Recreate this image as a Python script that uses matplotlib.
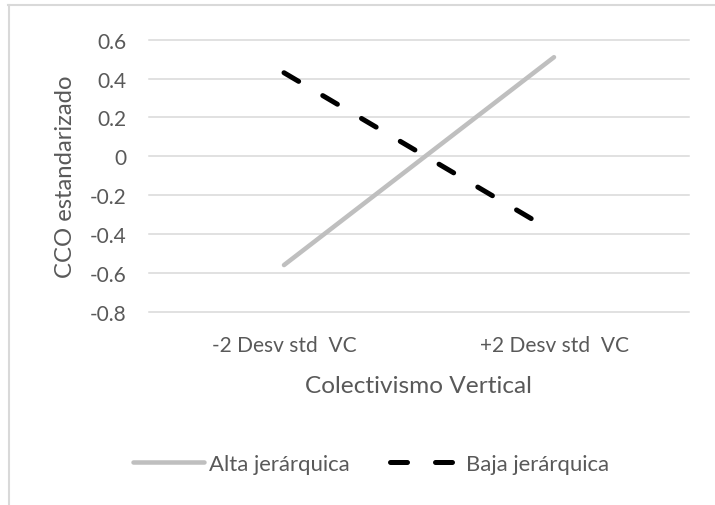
import matplotlib
matplotlib.use("Agg")
import matplotlib.pyplot as plt
from matplotlib.lines import Line2D

# ---- data ----
categories = ["-2 Desv std  VC", "+2 Desv std  VC"]
alta = [-0.56, 0.51]
baja = [0.43, -0.39]
series_names = ["Alta jerárquica", "Baja jerárquica"]
yticks = [-0.8, -0.6, -0.4, -0.2, 0, 0.2, 0.4, 0.6]
ytick_labels = ["-0.8", "-0.6", "-0.4", "-0.2", "0", "0.2", "0.4", "0.6"]
xlabel = "Colectivismo Vertical"
ylabel = "CCO estandarizado"

FAMILY = ['Lato', 'DejaVu Sans']
plt.rcParams['font.family'] = FAMILY
TXT = '#595959'
GRID = '#d9d9d9'
W, H = 715, 506

fig = plt.figure(figsize=(W / 100, H / 100), dpi=100)
renderer = fig.canvas.get_renderer()


def fit_size(text, target_px):
    t = fig.text(0, 0, text, fontsize=10)
    w = t.get_window_extent(renderer).width
    t.remove()
    return 10 * target_px / w


tick_fs = (fit_size(categories[0], 145) + fit_size(categories[1], 148)) / 2
ytick_fs = fit_size("-0.8", 36.7)
title_fs = fit_size(xlabel, 227)
ylab_fs = fit_size(ylabel, 203)
leg_fs = (fit_size(series_names[0], 142) + fit_size(series_names[1], 143)) / 2

ax = fig.add_axes([149 / W, 1 - 312.7 / H, 540 / W, 272 / H])

x = list(range(len(categories)))
ax.plot(x, alta, color='#bfbfbf', lw=3.25, solid_capstyle='round',
        label=series_names[0])
ax.plot(x, baja, color='black', lw=3.6, dashes=(3.4, 5.6),
        dash_capstyle='round', label=series_names[1])

ax.set_xlim(-0.5, len(categories) - 0.5)
ax.set_ylim(-0.8, 0.6)
ax.set_yticks(yticks)
ax.set_yticklabels(ytick_labels)
ax.set_xticks(x)
ax.set_xticklabels(categories)
ax.yaxis.grid(True, color=GRID, lw=1.1)
for gl in ax.get_ygridlines():
    gl.set_clip_on(False)
ax.set_axisbelow(True)
for s in ax.spines.values():
    s.set_visible(False)
ax.tick_params(length=0, colors=TXT)
ax.tick_params(axis='y', pad=16, labelsize=ytick_fs)
ax.tick_params(axis='x', pad=28.1, labelsize=tick_fs)
for lbl in ax.get_xticklabels():
    lbl.set_va('baseline')

fig.text(418.5 / W, 1 - 393.3 / H, xlabel, ha='center', va='baseline',
         fontsize=title_fs, color=TXT)
fig.text(65 / W, 1 - 176.5 / H, ylabel, ha='center', va='center',
         rotation=90, fontsize=ylab_fs, color=TXT)

leg_px = leg_fs * 100 / 72
leg = fig.legend(loc='center', bbox_to_anchor=(371 / W, 1 - 465 / H),
                 ncol=2, frameon=False, fontsize=leg_fs,
                 handlelength=71 / leg_px, handletextpad=5 / leg_px,
                 columnspacing=40 / leg_px)
for t in leg.get_texts():
    t.set_color(TXT)

# chart border (top and left edges visible)
fig.add_artist(Line2D([8 / W, 1], [1 - 6 / H, 1 - 6 / H], color=GRID,
                      lw=1.5, transform=fig.transFigure))
fig.add_artist(Line2D([9 / W, 9 / W], [1 - 6 / H, 0], color=GRID,
                      lw=1.5, transform=fig.transFigure))

fig.savefig("out.png", dpi=100)
